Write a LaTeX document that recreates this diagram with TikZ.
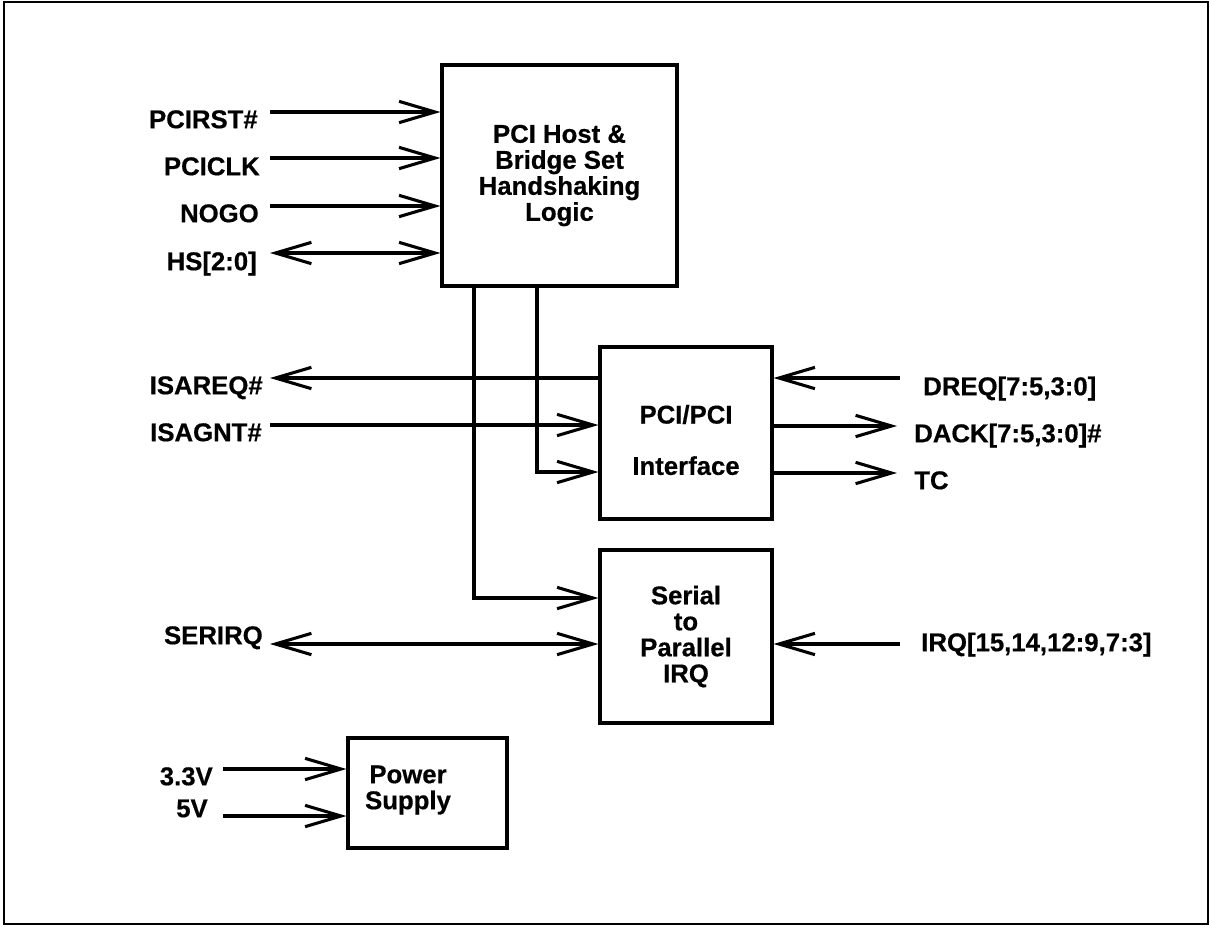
\documentclass[tikz,border=0pt]{standalone}
\usepackage{fontspec}
\setmainfont{Liberation Sans}
\newfontfamily\sigfont[FakeBold=0.5]{Liberation Sans Bold}
\usetikzlibrary{arrows.meta}

\tikzset{
  blk/.style={draw, line width=2.3pt, inner sep=0pt, align=center,
    font=\sigfont\fontsize{19.3}{19.5}\selectfont},
  pin/.style={inner sep=0pt, text height=13.8pt, text depth=0pt,
    font=\sigfont\fontsize{19.3}{19.5}\selectfont},
  sig/.style={line width=2.3pt, -{Straight Barb[length=27pt,width=16pt]}},
  bus/.style={line width=2.3pt, {Straight Barb[length=27pt,width=16pt]}-{Straight Barb[length=27pt,width=16pt]}},
}

\begin{document}
\begin{tikzpicture}[x=0.75pt,y=0.75pt,yscale=-1,xscale=1]
\useasboundingbox (0,0) rectangle (1210,926);

%Shape: Frame
\draw [line width=2pt] (4,2) rectangle (1208,924);

%Shape: Blocks
\node [blk, minimum width=176.25pt, minimum height=165.75pt] (hs) at (559.5,175.5) {PCI Host \&\\Bridge Set\\Handshaking\\Logic};
\node [blk, minimum width=129pt, minimum height=129pt] (pci) at (686,433) {};
\node [blk, minimum width=129pt, minimum height=129.75pt] (ser) at (686,636.5) {Serial\\to\\Parallel\\IRQ};
\node [blk, minimum width=119.25pt, minimum height=82.5pt] (pwr) at (427.5,793) {};

% Text Node
\node [blk, draw=none] (pcilbl) at (686,440) {PCI/PCI\\[19pt]Interface};
\node [blk, draw=none] (pwrlbl) at (408,790) {Power\\Supply};
\node [pin, anchor=east] (lrst) at (258,119) {PCIRST\#};
\node [pin, anchor=east] (lclk) at (260,166) {PCICLK};
\node [pin, anchor=east] (lnogo) at (259,213) {NOGO};
\node [pin, anchor=east] (lhs) at (257,261) {HS[2:0]};
\node [pin, anchor=east] (lareq) at (263,385) {ISAREQ\#};
\node [pin, anchor=east] (lagnt) at (262,432) {ISAGNT\#};
\node [pin, anchor=east] (lsirq) at (263,635) {SERIRQ};
\node [pin, anchor=east] (lv33) at (213,776) {3.3V};
\node [pin, anchor=east] (lv5) at (208,808) {5V};
\node [pin, anchor=west] (ldreq) at (923,386) {DREQ[7:5,3:0]};
\node [pin, anchor=west] (ldack) at (914,433) {DACK[7:5,3:0]\#};
\node [pin, anchor=west] (ltc) at (914,480) {TC};
\node [pin, anchor=west] (lirq) at (921,642) {IRQ[15,14,12:9,7:3]};

%Straight Lines: free ends
\coordinate (rst) at (270,112);
\coordinate (clk) at (270,158);
\coordinate (nogo) at (270,206);
\coordinate (hsb) at (270,253);
\coordinate (areq) at (270,378);
\coordinate (agnt) at (270,425);
\coordinate (sirq) at (270,644);
\coordinate (v33) at (223,769);
\coordinate (v5) at (223,816);
\coordinate (dreq) at (900,378);
\coordinate (dack) at (897,426);
\coordinate (tc) at (897,473);
\coordinate (irq) at (900,644);
\coordinate (tapa) at (474,598);
\coordinate (tapb) at (537,472);

%Straight Lines
\draw [sig] (rst) -- (rst -| hs.west);
\draw [sig] (clk) -- (clk -| hs.west);
\draw [sig] (nogo) -- (nogo -| hs.west);
\draw [bus] (hsb) -- (hsb -| hs.west);
\draw [sig] (areq -| pci.west) -- (areq);
\draw [sig] (agnt) -- (agnt -| pci.west);
\draw [sig] (hs.south -| tapb) |- (tapb -| pci.west);
\draw [sig] (hs.south -| tapa) |- (tapa -| ser.west);
\draw [bus] (sirq) -- (sirq -| ser.west);
\draw [sig] (v33) -- (v33 -| pwr.west);
\draw [sig] (v5) -- (v5 -| pwr.west);
\draw [sig] (dreq) -- (dreq -| pci.east);
\draw [sig] (dack -| pci.east) -- (dack);
\draw [sig] (tc -| pci.east) -- (tc);
\draw [sig] (irq) -- (irq -| ser.east);

\end{tikzpicture}
\end{document}
